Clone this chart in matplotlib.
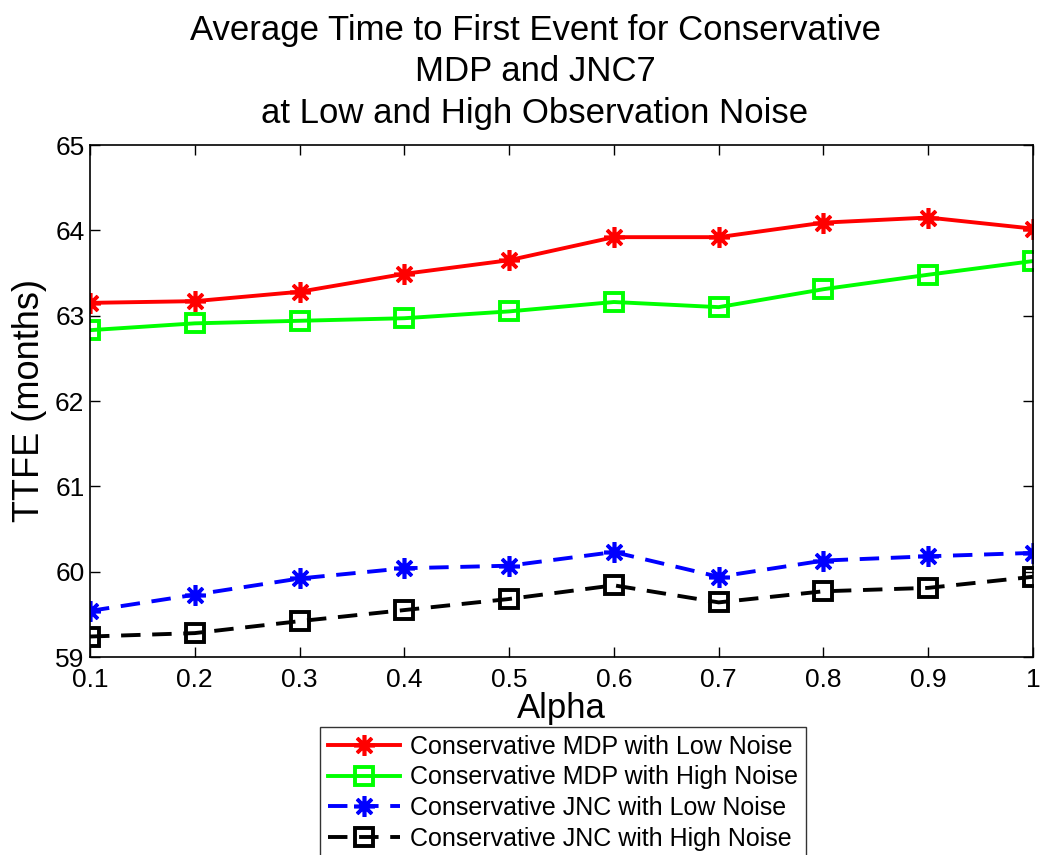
import matplotlib
matplotlib.use("Agg")
import matplotlib.pyplot as plt

alpha = [0.1, 0.2, 0.3, 0.4, 0.5, 0.6, 0.7, 0.8, 0.9, 1.0]
mdp_low = [63.15, 63.17, 63.28, 63.49, 63.65, 63.92, 63.92, 64.09, 64.15, 64.02]
mdp_high = [62.83, 62.91, 62.94, 62.97, 63.05, 63.16, 63.10, 63.31, 63.48, 63.64]
jnc_low = [59.54, 59.73, 59.92, 60.04, 60.07, 60.23, 59.94, 60.13, 60.18, 60.22]
jnc_high = [59.24, 59.28, 59.42, 59.55, 59.68, 59.84, 59.64, 59.77, 59.81, 59.94]
labels = ["Conservative MDP with Low Noise", "Conservative MDP with High Noise",
          "Conservative JNC with Low Noise", "Conservative JNC with High Noise"]
xticks = [0.1, 0.2, 0.3, 0.4, 0.5, 0.6, 0.7, 0.8, 0.9, 1.0]
xticklabels = ["0.1", "0.2", "0.3", "0.4", "0.5", "0.6", "0.7", "0.8", "0.9", "1"]
yticks = [59, 60, 61, 62, 63, 64, 65]

plt.rcParams['font.family'] = ['Liberation Sans', 'DejaVu Sans']

fig = plt.figure(figsize=(10.42, 8.55), dpi=100)
ax = fig.add_axes([90/1042, 1-657/855, (1033-90)/1042, (657-145)/855])

ast = (8, 2, 0)
lw = 2.8
ax.plot(alpha, mdp_low, color='#ff0000', lw=lw, marker=ast, ms=15, mew=2.6,
        label=labels[0])
ax.plot(alpha, mdp_high, color='#00ff00', lw=lw, marker='s', ms=13, mew=2.8,
        mfc='none', label=labels[1])
ax.plot(alpha, jnc_low, color='#0000ff', lw=lw, ls=(0, (5, 3)), marker=ast, ms=15,
        mew=2.6, label=labels[2])
ax.plot(alpha, jnc_high, color='black', lw=lw, ls=(0, (5, 3)), marker='s', ms=13,
        mew=2.8, mfc='none', label=labels[3])

ax.set_xlim(0.1, 1.0)
ax.set_ylim(59, 65)
ax.set_xticks(xticks)
ax.set_xticklabels(xticklabels)
ax.set_yticks(yticks)
ax.tick_params(direction='in', top=True, right=True, labelsize=19, length=7, width=1)
ax.tick_params(axis='y', pad=4)
ax.tick_params(axis='x', pad=8)
for s in ax.spines.values():
    s.set_linewidth(1.2)

ax.set_xlabel("Alpha", fontsize=25, labelpad=0)
ax.set_ylabel("TTFE (months)", fontsize=26, labelpad=6)
ax.set_title("Average Time to First Event for Conservative\nMDP and JNC7\n"
             "at Low and High Observation Noise", fontsize=25, pad=16,
             linespacing=1.32, x=(535-90)/943)

leg = fig.legend(loc='upper center', bbox_to_anchor=(563/1042, 1-727/855),
                 fontsize=18, frameon=True, fancybox=False, edgecolor='black',
                 handlelength=2.9, borderpad=0.3, labelspacing=0.27,
                 handletextpad=0.4, borderaxespad=0)
leg.get_frame().set_linewidth(1.0)

fig.savefig("out.png", dpi=100)
